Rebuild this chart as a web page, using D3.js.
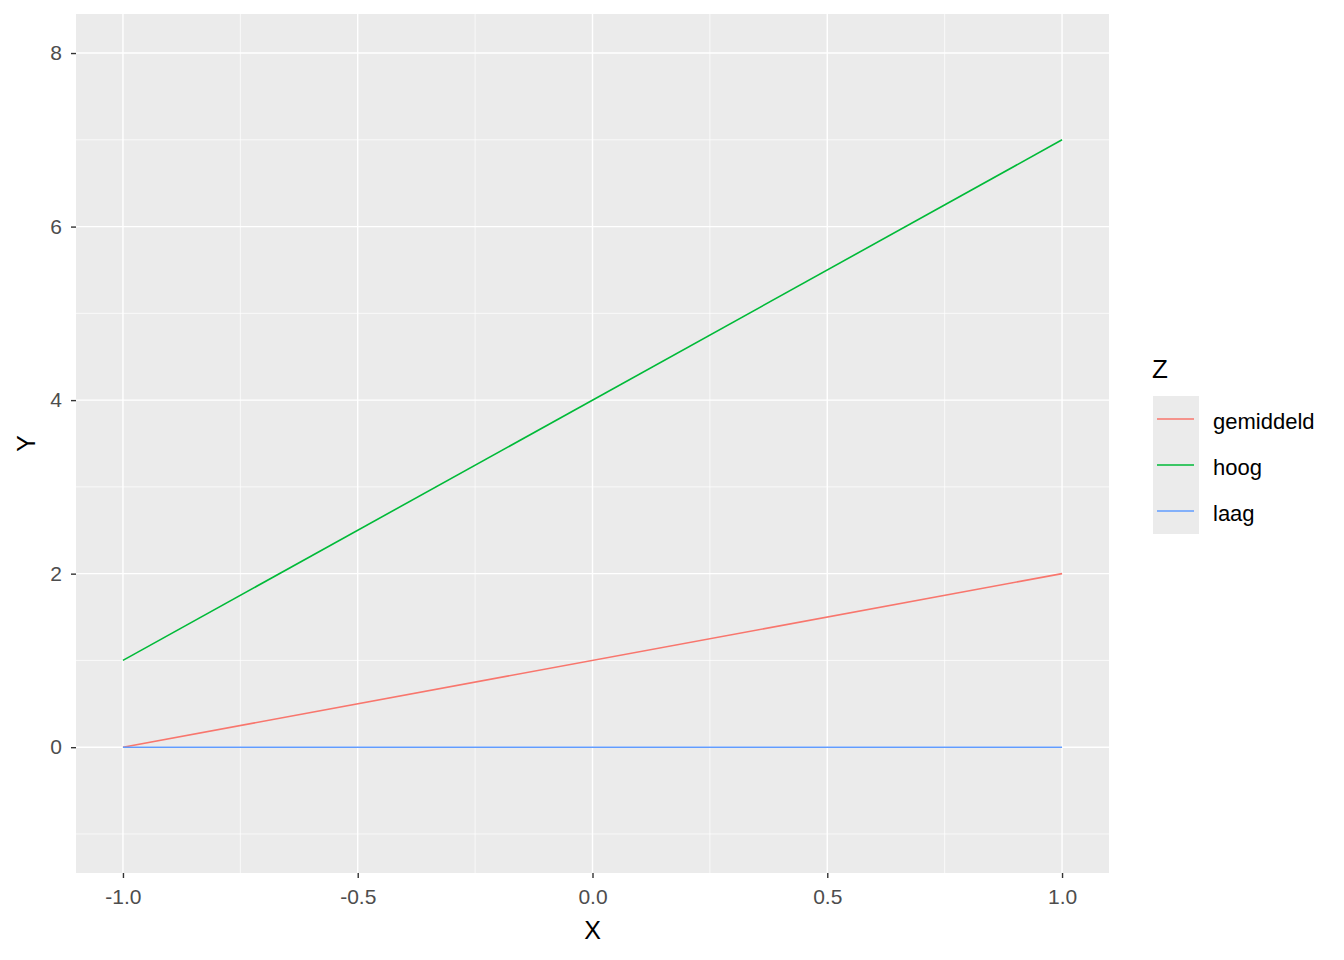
<!DOCTYPE html>
<html>
<head>
<meta charset="utf-8">
<script src="https://cdn.jsdelivr.net/npm/d3@7"></script>
<style>
  body { margin: 0; background: #fff; }
  text { font-family: "Liberation Sans", Arial, sans-serif; }
</style>
</head>
<body>
<div id="chart"></div>
<script>
// data
const groups = ["gemiddeld", "hoog", "laag"];
const colors = ["#F8766D", "#00BA38", "#619CFF"];
const xs = [-1, 1];
const gemiddeld = [0, 2];
const hoog = [1, 7];
const laag = [0, 0];
const xTicks = [-1, -0.5, 0, 0.5, 1];
const yTicks = [0, 2, 4, 6, 8];
const yLimits = [-1, 8];

const w = 1344, h = 960;
const padL = 76, padR = 1109, padT = 14, padB = 873;

const series = [gemiddeld, hoog, laag];

const svg = d3.select("#chart").append("svg")
  .attr("width", w).attr("height", h);

// ggplot style 5% expansion
const xPad = (xs[1] - xs[0]) * 0.05;
const yPad = (yLimits[1] - yLimits[0]) * 0.05;
const x = d3.scaleLinear().domain([xs[0] - xPad, xs[1] + xPad]).range([padL, padR]);
const y = d3.scaleLinear().domain([yLimits[0] - yPad, yLimits[1] + yPad]).range([padB, padT]);

svg.append("rect")
  .attr("x", padL).attr("y", padT)
  .attr("width", padR - padL).attr("height", padB - padT)
  .attr("fill", "#EBEBEB");

// minor grid
const xMinor = d3.range(-1.25, 1.3, 0.5);
const yMinor = d3.range(-1, 9, 2);
svg.selectAll(".xminor").data(xMinor).enter().append("line")
  .attr("x1", d => x(d)).attr("x2", d => x(d))
  .attr("y1", padT).attr("y2", padB)
  .attr("stroke", "#fff").attr("stroke-width", 0.7);
svg.selectAll(".yminor").data(yMinor).enter().append("line")
  .attr("y1", d => y(d)).attr("y2", d => y(d))
  .attr("x1", padL).attr("x2", padR)
  .attr("stroke", "#fff").attr("stroke-width", 0.7);

// major grid
svg.selectAll(".xmajor").data(xTicks).enter().append("line")
  .attr("x1", d => x(d)).attr("x2", d => x(d))
  .attr("y1", padT).attr("y2", padB)
  .attr("stroke", "#fff").attr("stroke-width", 1.4);
svg.selectAll(".ymajor").data(yTicks).enter().append("line")
  .attr("y1", d => y(d)).attr("y2", d => y(d))
  .attr("x1", padL).attr("x2", padR)
  .attr("stroke", "#fff").attr("stroke-width", 1.4);

// lines
const line = d3.line().x((d, i) => x(xs[i])).y(d => y(d));
series.forEach((s, i) => {
  svg.append("path")
    .datum(s)
    .attr("d", line)
    .attr("fill", "none")
    .attr("stroke", colors[i])
    .attr("stroke-width", 1.6);
});

// axes (plain hyphen, like R)
const xAxis = d3.axisBottom(x).tickValues(xTicks).tickFormat(d => d.toFixed(1))
  .tickSize(5).tickPadding(4);
const yAxis = d3.axisLeft(y).tickValues(yTicks).tickFormat(d => String(d))
  .tickSize(5).tickPadding(9);

const gx = svg.append("g").attr("transform", `translate(0,${padB})`).call(xAxis);
const gy = svg.append("g").attr("transform", `translate(${padL},0)`).call(yAxis);
[gx, gy].forEach(g => {
  g.select(".domain").remove();
  g.selectAll(".tick line").attr("stroke", "#333").attr("stroke-width", 1.4);
  g.selectAll(".tick text").attr("fill", "#4D4D4D")
    .style("font-size", "21px").style("font-family", "'Liberation Sans', Arial, sans-serif");
});
gx.selectAll(".tick text").attr("dy", "0.71em").attr("y", 16);

// axis titles
svg.append("text")
  .attr("x", (padL + padR) / 2).attr("y", 939)
  .attr("text-anchor", "middle")
  .style("font-size", "25px")
  .text("X");
svg.append("text")
  .attr("transform", `translate(35,${(padT + padB) / 2}) rotate(-90)`)
  .attr("text-anchor", "middle")
  .style("font-size", "25px")
  .text("Y");

// legend
const lg = svg.append("g").attr("transform", "translate(1153,396)");
lg.append("text").attr("x", -1).attr("y", -18).style("font-size", "26px").text("Z");
lg.append("rect").attr("width", 46).attr("height", 46 * groups.length).attr("fill", "#EBEBEB");
groups.forEach((g, i) => {
  const cy = 23 + i * 46;
  lg.append("line")
    .attr("x1", 4).attr("x2", 41).attr("y1", cy).attr("y2", cy)
    .attr("stroke", colors[i]).attr("stroke-width", 1.6);
  lg.append("text")
    .attr("x", 60).attr("y", cy + 2).attr("dy", "0.35em")
    .style("font-size", "22px")
    .text(g);
});
</script>
</body>
</html>
